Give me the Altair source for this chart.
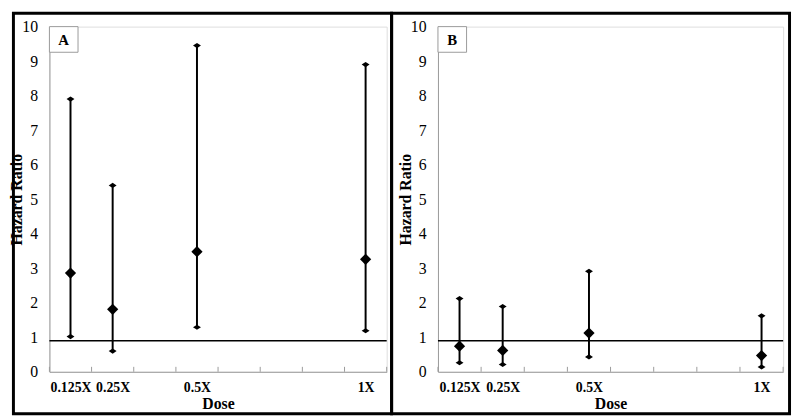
import altair as alt
import pandas as pd

# ---- data ----
doses = [0.125, 0.25, 0.5, 1.0]
dose_labels = ["0.125X", "0.25X", "0.5X", "1X"]

a_mean = [2.86, 1.81, 3.48, 3.26]
a_lower = [1.02, 0.60, 1.29, 1.19]
a_upper = [7.90, 5.40, 9.45, 8.90]

b_mean = [0.74, 0.62, 1.12, 0.47]
b_lower = [0.26, 0.21, 0.43, 0.14]
b_upper = [2.12, 1.89, 2.91, 1.62]

minor_ticks = [0.0625, 0.1875, 0.3125, 0.4375, 0.5625, 0.6875, 0.8125, 0.9375, 1.0625]
y_ticks = [0, 1, 2, 3, 4, 5, 6, 7, 8, 9, 10]
ref_line = 0.9

FONT = "Liberation Serif"
GRAY = "#9a9a9a"
H = 350

label_expr = " : ".join(
    [f"datum.value == {d} ? '{l}'" for d, l in zip(doses, dose_labels)] + ["''"]
)


def panel(letter, mean, lower, upper, w, fx1, fx2):
    df = pd.DataFrame({"dose": doses, "mean": mean, "lower": lower, "upper": upper})
    xscale = alt.Scale(domain=[minor_ticks[0], minor_ticks[-1]], nice=False, zero=False)
    yscale = alt.Scale(domain=[0, 10], nice=False)
    xaxis = alt.Axis(
        values=doses, labelExpr=label_expr, ticks=False, grid=False,
        domainColor=GRAY, labelFont=FONT, labelFontWeight="bold", labelFontSize=14,
        labelColor="black", labelPadding=9, labelOverlap=False,
        title="Dose", titleFont=FONT, titleFontWeight="bold", titleFontSize=16,
        titleColor="black", titlePadding=1,
    )
    yaxis = alt.Axis(
        values=y_ticks, ticks=False, grid=False, domainColor=GRAY,
        labelFont=FONT, labelFontSize=16, labelColor="black", labelPadding=12,
        labelOverlap=False, tickCount=11,
        title="Hazard Ratio", titleFont=FONT, titleFontWeight="bold", titleFontSize=16,
        titleColor="black", titlePadding=-3,
    )

    def X(field):
        return alt.X(field, type="quantitative", scale=xscale, axis=xaxis)

    def Y(field):
        return alt.Y(field, type="quantitative", scale=yscale, axis=yaxis)

    base = alt.Chart(df)
    one = pd.DataFrame({"a": [0]})

    frame = alt.Chart(one).mark_rect(
        fill="white", fillOpacity=0, stroke="black", strokeWidth=3
    ).encode(x=alt.value(fx1), x2=alt.value(fx2), y=alt.value(-13.5), y2=alt.value(392.5))

    box = alt.Chart(one).mark_rect(fill="white", stroke=GRAY, strokeWidth=1).encode(
        x=alt.value(0), x2=alt.value(29), y=alt.value(0), y2=alt.value(26)
    )
    letter_txt = alt.Chart(one).mark_text(
        font=FONT, fontWeight="bold", fontSize=15, color="black", baseline="middle", align="center"
    ).encode(x=alt.value(14.5), y=alt.value(13.5), text=alt.value(letter))

    ticks = alt.Chart(pd.DataFrame({"t": minor_ticks})).mark_rule(color=GRAY, strokeWidth=1).encode(
        x=X("t"), y=alt.value(H - 5), y2=alt.value(H)
    )

    refl = alt.Chart(pd.DataFrame({"r": [ref_line]})).mark_rule(color="black", strokeWidth=1.5).encode(
        y=Y("r")
    )

    bars = base.mark_rule(color="black", strokeWidth=2).encode(
        x=X("dose"), y=Y("lower"), y2="upper:Q"
    )
    end_shape = "M-1,0L0,-0.65L1,0L0,0.65Z"
    lo = base.mark_point(shape=end_shape, filled=True, size=64, color="black", opacity=1).encode(
        x=X("dose"), y=Y("lower")
    )
    hi = base.mark_point(shape=end_shape, filled=True, size=64, color="black", opacity=1).encode(
        x=X("dose"), y=Y("upper")
    )
    mid = base.mark_point(shape="diamond", filled=True, size=130, color="black", opacity=1).encode(
        x=X("dose"), y=Y("mean")
    )
    return alt.layer(ticks, refl, frame, box, letter_txt, bars, lo, hi, mid).properties(width=w, height=H)


chart_a = panel("A", a_mean, a_lower, a_upper, 342, -36.5, 347)
chart_b = panel("B", b_mean, b_lower, b_upper, 350, -47, 356.5)

chart = alt.hconcat(chart_a, chart_b, spacing=52, bounds="flush").properties(
    padding=0, background="white"
).configure_view(stroke=GRAY, strokeWidth=1).configure(font=FONT)

chart.save("out.html", embed_options={"renderer": "svg", "actions": False})
